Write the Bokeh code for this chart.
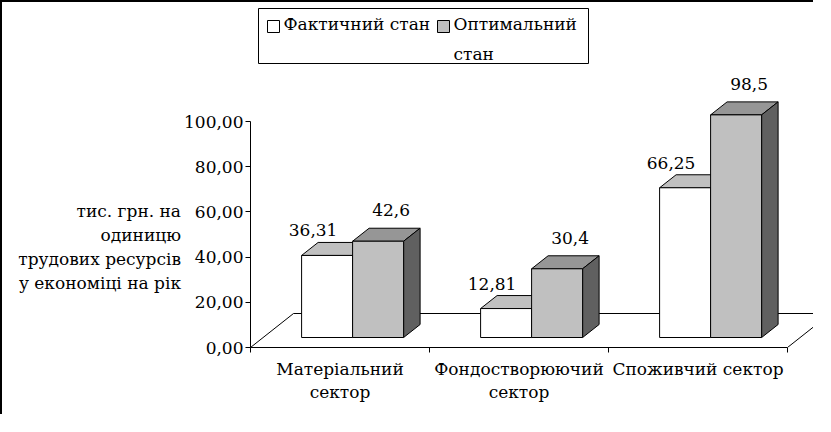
from bokeh.plotting import figure
from bokeh.models import FixedTicker, Range1d
from bokeh.core.properties import value
from bokeh.embed import file_html
from bokeh.resources import INLINE

# ---- data ----
categories = ["Матеріальний\nсектор", "Фондостворюючий\nсектор", "Споживчий сектор"]
actual = [36.31, 12.81, 66.25]        # Фактичний стан
optimal = [42.6, 30.4, 98.5]          # Оптимальний стан
actual_labels = ["36,31", "12,81", "66,25"]
optimal_labels = ["42,6", "30,4", "98,5"]
y_ticks = [0, 20, 40, 60, 80, 100]
y_tick_labels = ["0,00", "20,00", "40,00", "60,00", "80,00", "100,00"]
series_names = ["Фактичний стан", "Оптимальний\nстан"]
y_title = "тис. грн. на\nодиницю\nтрудових ресурсів\nу економіці на рік"

FONT = "DejaVu Serif"
FS = "17px"

# ---- layout constants (pixels) ----
PX_X = 179.0    # px per category
PX_Y = 2.26     # px per unit value
BORDER = 2
W, H = 813, 414
FRAME_LEFT = 248
FRAME_H = 345
FRAME_W = W - FRAME_LEFT
ORIG_X = FRAME_LEFT + BORDER
ORIG_Y = FRAME_H + BORDER

def sx(px):   # screen px -> data x
    return (px - ORIG_X) / PX_X

def sy(py):   # screen px -> data y
    return (ORIG_Y - py) / PX_Y

# 3D geometry in data units
FLOOR_DX, FLOOR_DY = 43 / PX_X, 34 / PX_Y
OFF_X, OFF_Y = 12.6 / PX_X, 10 / PX_Y
BAR_DX, BAR_DY = 16.5 / PX_X, 13 / PX_Y
BAR_W = 51 / PX_X

p = figure(width=W, height=H, output_backend="svg", toolbar_location=None,
           x_range=Range1d(0, FRAME_W / PX_X), y_range=Range1d(0, FRAME_H / PX_Y),
           min_border_left=FRAME_LEFT, min_border_right=0, min_border_top=0,
           min_border_bottom=H - FRAME_H)
p.styles = {"border-top": "2px solid black", "border-left": "2px solid black"}
p.outline_line_color = None
p.grid.visible = False
p.background_fill_color = "white"
p.border_fill_color = "white"

n = len(categories)

# floor outline (front edge is the x axis)
p.line([0, FLOOR_DX, n + FLOOR_DX, n], [0, FLOOR_DY, FLOOR_DY, 0],
       line_color="black", line_width=1)

def bar_faces(values, side):
    fx, fy, tx, ty, kx, ky = [], [], [], [], [], []
    for i, v in enumerate(values):
        c = i + 0.5
        if side == 0:
            x0, x1 = c - BAR_W + OFF_X, c + OFF_X
        else:
            x0, x1 = c + OFF_X, c + BAR_W + OFF_X
        y0, y1 = OFF_Y, v + OFF_Y
        fx.append([x0, x1, x1, x0]); fy.append([y0, y0, y1, y1])
        tx.append([x0, x1, x1 + BAR_DX, x0 + BAR_DX])
        ty.append([y1, y1, y1 + BAR_DY, y1 + BAR_DY])
        kx.append([x1, x1 + BAR_DX, x1 + BAR_DX, x1])
        ky.append([y0, y0 + BAR_DY, y1 + BAR_DY, y1])
    return fx, fy, tx, ty, kx, ky

series = [(actual, actual_labels, "#FFFFFF", "#C0C0C0", "#999999", -14, -12),
          (optimal, optimal_labels, "#C0C0C0", "#969696", "#606060", 13, -18)]

for k, (vals, labs, front_c, top_c, side_c, xoff, yoff) in enumerate(series):
    fx, fy, tx, ty, kx, ky = bar_faces(vals, k)
    p.patches(tx, ty, fill_color=top_c, line_color="black", line_width=1)
    p.patches(kx, ky, fill_color=side_c, line_color="black", line_width=1)
    p.patches(fx, fy, fill_color=front_c, line_color="black", line_width=1)

# value labels
for k, (vals, labs, front_c, top_c, side_c, xoff, yoff) in enumerate(series):
    xs = [i + 0.5 + (-BAR_W / 2 if k == 0 else BAR_W / 2) + OFF_X for i in range(n)]
    ys = [v + OFF_Y + BAR_DY for v in vals]
    p.text(xs, ys, text=labs, x_offset=xoff, y_offset=yoff,
           text_align="center", text_baseline="middle",
           text_font=value(FONT), text_font_size=FS, text_color="black")

# legend (Excel-style boxed key)
p.quad(left=[sx(258)], right=[sx(588)], top=[sy(8)], bottom=[sy(63)],
       fill_color="white", line_color="black", line_width=1)
key_left = [267, 437]
text_left = [283, 453]
p.quad(left=[sx(v) for v in key_left], right=[sx(v + 12) for v in key_left],
       top=[sy(20)] * 2, bottom=[sy(32)] * 2,
       fill_color=[s[2] for s in series], line_color="black", line_width=1)
p.text([sx(v) for v in text_left], [sy(13)] * 2, text=series_names,
       text_align="left", text_baseline="top", text_line_height=1.5,
       text_font=value(FONT), text_font_size=FS, text_color="black")

# axes
xa = p.xaxis[0]
xa.ticker = FixedTicker(ticks=[i + 0.5 for i in range(n)],
                        minor_ticks=list(range(n + 1)))
xa.major_label_overrides = {i + 0.5: c for i, c in enumerate(categories)}
xa.bounds = (0, n)
xa.major_tick_in = 0
xa.major_tick_out = 0
xa.minor_tick_in = 0
xa.minor_tick_out = 5
xa.major_label_standoff = 6
xa.axis_line_color = "black"
xa.minor_tick_line_color = "black"
xa.major_label_text_font = FONT
xa.major_label_text_font_size = FS
xa.major_label_text_color = "black"
xa.major_label_text_line_height = 1.15

ya = p.yaxis[0]
ya.ticker = FixedTicker(ticks=y_ticks, minor_ticks=[])
ya.major_label_overrides = {t: s for t, s in zip(y_ticks, y_tick_labels)}
ya.bounds = (0, 100)
ya.major_tick_in = 0
ya.major_tick_out = 5
ya.major_label_standoff = 2
ya.axis_line_color = "black"
ya.major_tick_line_color = "black"
ya.major_label_text_font = FONT
ya.major_label_text_font_size = FS
ya.major_label_text_color = "black"
ya.axis_label = "\n" * 6 + y_title
ya.axis_label_orientation = "horizontal"
ya.axis_label_standoff = 0
ya.axis_label_text_font = FONT
ya.axis_label_text_font_size = FS
ya.axis_label_text_font_style = "normal"
ya.axis_label_text_color = "black"
ya.axis_label_text_align = "center"
ya.axis_label_text_line_height = 1.2

open("out.html", "w").write(file_html(p, INLINE))
